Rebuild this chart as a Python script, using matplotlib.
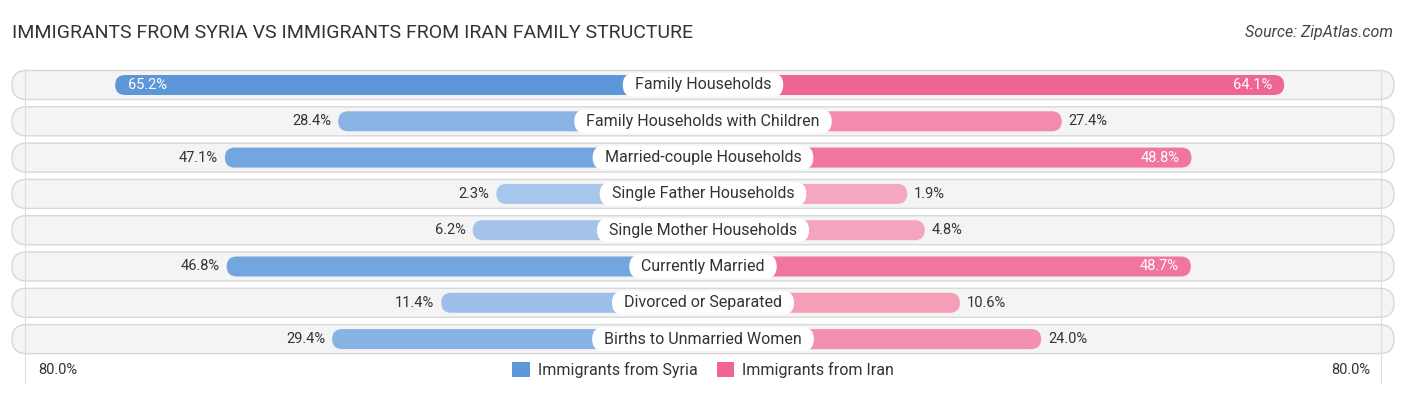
import numpy as np
import matplotlib.pyplot as plt
from matplotlib.patches import FancyBboxPatch, Patch
from matplotlib.colors import to_rgb

plt.rcParams['font.family'] = ['Roboto', 'DejaVu Sans']

categories = ['Family Households', 'Family Households with Children',
              'Married-couple Households', 'Single Father Households',
              'Single Mother Households', 'Currently Married',
              'Divorced or Separated', 'Births to Unmarried Women']
syria = [65.2, 28.4, 47.1, 2.3, 6.2, 46.8, 11.4, 29.4]
iran = [64.1, 27.4, 48.8, 1.9, 4.8, 48.7, 10.6, 24.0]
series_names = ['Immigrants from Syria', 'Immigrants from Iran']

# layout (pixels of the 1406x395 canvas)
W, H = 1406, 395
PX = 6.06     # px per percentage point
ROW = 36.3    # px per row
OFF = 31.8    # gap under the centre label, in pct units
CX, Y0 = 703, 85
ASP = PX / ROW

BLUE_D, BLUE_L = '#5e97d8', '#aac8ec'
PINK_D, PINK_L = '#f06591', '#f5a9c0'


def shade(dark, light, v, vmax=65.2):
    t = min(v / vmax, 1.0)
    d, l = np.array(to_rgb(dark)), np.array(to_rgb(light))
    return tuple(l + (d - l) * t)


def rbox(ax, x0, x1, yc, h, r, **kw):
    p = FancyBboxPatch((x0, yc - h / 2), x1 - x0, h,
                       boxstyle=f'round,pad=0,rounding_size={r}',
                       mutation_aspect=ASP, **kw)
    ax.add_patch(p)
    return p


fig = plt.figure(figsize=(W / 100, H / 100), dpi=100)
ax = fig.add_axes([0, 0, 1, 1])
ax.set_xlim(-CX / PX, (W - CX) / PX)
ax.set_ylim((H - Y0) / ROW, -Y0 / ROW)
ax.axis('off')

pill_x = (12 - CX) / PX
bar_h = 20 / ROW
pill_h = 29 / ROW
lab_h = 24 / ROW

cat_texts = []
for i, (cat, s, r) in enumerate(zip(categories, syria, iran)):
    rbox(ax, pill_x, -pill_x, i, pill_h, 14.5 / PX, facecolor='#f4f4f4',
         edgecolor='#d8d8d8', lw=1.0, zorder=1)
    # left bar (Syria)
    rbox(ax, -(OFF + s), 0, i, bar_h, 10 / PX, facecolor=shade(BLUE_D, BLUE_L, s),
         edgecolor='none', zorder=3)
    # right bar (Iran)
    rbox(ax, 0, OFF + r, i, bar_h, 10 / PX, facecolor=shade(PINK_D, PINK_L, r),
         edgecolor='none', zorder=3)

    if s > 60:
        ax.text(-(OFF + s) + 13 / PX, i, f'{s:.1f}%', ha='left', va='center',
                fontsize=10.5, color='white', zorder=5)
    else:
        ax.text(-(OFF + s) - 7 / PX, i, f'{s:.1f}%', ha='right', va='center',
                fontsize=10.5, color='#333333', zorder=5)
    if r > 40:
        ax.text(OFF + r - 12 / PX, i, f'{r:.1f}%', ha='right', va='center',
                fontsize=10.5, color='white', zorder=5)
    else:
        ax.text(OFF + r + 7 / PX, i, f'{r:.1f}%', ha='left', va='center',
                fontsize=10.5, color='#333333', zorder=5)

    t = ax.text(0, i, cat, ha='center', va='center', fontsize=11.5,
                color='#333333', zorder=6)
    cat_texts.append(t)

# white rounded label boxes sized to the text
fig.canvas.draw()
rend = fig.canvas.get_renderer()
for i, t in enumerate(cat_texts):
    half = (t.get_window_extent(rend).width / 2 + 12) / PX
    rbox(ax, -half, half, i, lab_h, 12 / PX, facecolor='white',
         edgecolor='none', zorder=5)

# 80% guide lines
g = OFF + 80
for xg in (-g, g):
    ax.plot([xg, xg], [-0.45, 8.2], color='#dddddd', lw=0.8, zorder=2)

ax.text((38 - CX) / PX, (370 - Y0) / ROW, '80.0%', ha='left', va='center',
        fontsize=10.5, color='#333333')
ax.text((1370 - CX) / PX, (370 - Y0) / ROW, '80.0%', ha='right', va='center',
        fontsize=10.5, color='#333333')

handles = [Patch(facecolor=BLUE_D, edgecolor='none', label=series_names[0]),
           Patch(facecolor=PINK_D, edgecolor='none', label=series_names[1])]
fig.legend(handles=handles, loc='center', bbox_to_anchor=(CX / W, 1 - 370 / H),
           ncol=2, frameon=False, fontsize=11.5, handlelength=1.1,
           handleheight=1.1, handletextpad=0.5, columnspacing=1.2,
           labelcolor='#333333')

fig.text(12 / W, 1 - 33 / H,
         'IMMIGRANTS FROM SYRIA VS IMMIGRANTS FROM IRAN FAMILY STRUCTURE',
         ha='left', va='center', fontsize=14, color='#333333')
fig.text(1393 / W, 1 - 33 / H, 'Source: ZipAtlas.com', ha='right', va='center',
         fontsize=11.5, style='italic', color='#444444')

fig.savefig('out.png', dpi=100)
